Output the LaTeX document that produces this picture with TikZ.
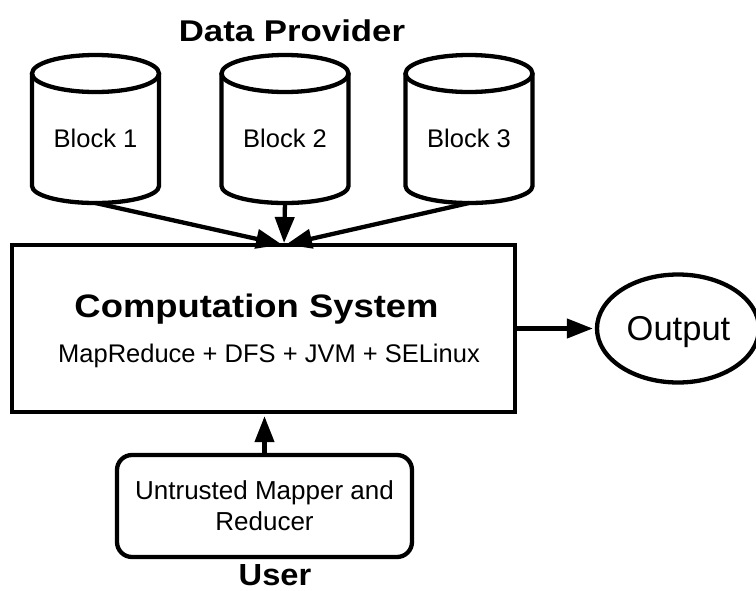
\documentclass[tikz,border=0pt]{standalone}
\usepackage{fontspec}
\setmainfont{Liberation Sans}
\usepackage{graphicx}
\usetikzlibrary{arrows.meta,shapes.geometric}
\tikzset{
  outline/.style={draw, line width=4.3pt, inner sep=0pt},
  link/.style={line width=4.3pt, shorten >=2pt, -{Triangle[length=26pt,width=19pt]}},
  lbl/.style={inner sep=0pt, anchor=base},
  body/.style={font=\fontsize{25.5}{31}\selectfont},
}
% bold heading, slightly widened
\newcommand\widebold[3]{{\fontsize{#1}{#1}\bfseries\scalebox{#2}[1]{#3}}}

\begin{document}
\begin{tikzpicture}[x=1pt,y=1pt]
\useasboundingbox (0,0) rectangle (756,-590);

% heading of the storage side
\node[lbl] (prov) at (292,-41.7) {\widebold{30}{1.16}{Data Provider}};

% storage blocks drawn as cylinders
\foreach \n/\cx in {1/95.5, 2/285, 3/469}{
  \draw[line width=4.3pt, line join=round]
    (\cx-63.5,-73.5) -- (\cx-63.5,-186)
    arc[start angle=180, end angle=360, x radius=63.5, y radius=17]
    -- (\cx+63.5,-73.5);
  \draw[line width=4.3pt] (\cx,-73.5) ellipse[x radius=63.5, y radius=18.5];
  \node[lbl, body] (b\n) at (\cx,-147) {Block \n};
  \coordinate (b\n bot) at (\cx,-203);
}

% computation system
\node[outline, minimum width=503pt, minimum height=167pt] (cs) at (263.5,-328.5) {};
\node[lbl] (cstitle) at (256.5,-317) {\widebold{32.5}{1.12}{Computation System}};
\node[lbl, body] (cssub) at (269,-362) {MapReduce + DFS + JVM + SELinux};
\coordinate (feed) at (284,-245);

% output
\node[outline, ellipse, minimum width=162pt, minimum height=108pt] (out) at (678,-328.5) {};
\node[lbl, font=\fontsize{34.5}{40}\selectfont] (outtxt) at (678.5,-340) {Output};

% user side
\node[outline, rounded corners=15pt, minimum width=295pt, minimum height=102pt,
      align=center, font=\fontsize{26}{31}\selectfont] (usr) at (264.5,-506)
      {Untrusted Mapper and\\Reducer};
\node[lbl] (usrlbl) at (275,-585.5) {\widebold{30.5}{1.07}{User}};

% connectors
\draw[link] (b1bot) -- (feed);
\draw[link] (b3bot) -- (feed);
\draw[link] (b2bot) -- (feed);
\draw[link] (cs.east) -- (out.west);
\draw[link] (usr.north) -- (usr.north |- cs.south);
\end{tikzpicture}
\end{document}
